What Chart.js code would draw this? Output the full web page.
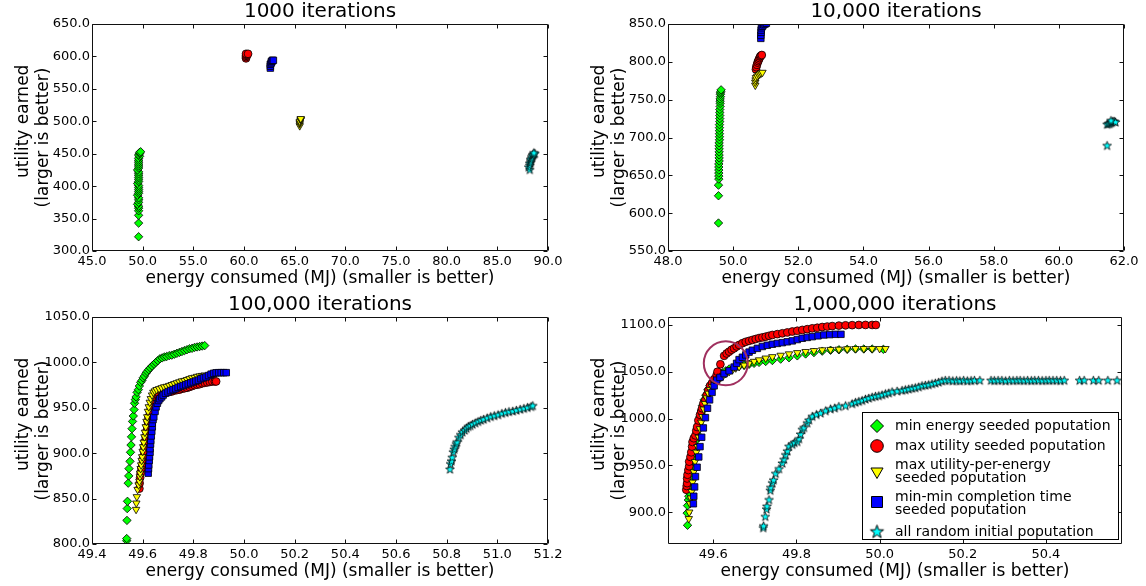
<!DOCTYPE html>
<html><head><meta charset="utf-8">
<script src="https://cdn.jsdelivr.net/npm/chart.js@4/dist/chart.umd.min.js"></script>
<style>
html,body{margin:0;padding:0;background:#fff;}
#wrap{position:relative;width:1146px;height:586px;overflow:hidden;background:#fff;}
canvas{position:absolute;}
</style></head><body>
<div id="wrap">
<canvas id="c1" width="573" height="293" style="left:0;top:0"></canvas>
<canvas id="c2" width="573" height="293" style="left:573px;top:0"></canvas>
<canvas id="c3" width="573" height="293" style="left:0;top:293px"></canvas>
<canvas id="c4" width="573" height="293" style="left:573px;top:293px"></canvas>
</div>
<script>
// ---------- titles / labels ----------
const chartTitles = ["1000 iterations", "10,000 iterations", "100,000 iterations", "1,000,000 iterations"];
const xTitle = "energy consumed (MJ) (smaller is better)";
const yTitleLines = ["utility earned", "(larger is better)"];
const seriesNames = [
  ["min energy seeded poputation"],
  ["max utility seeded poputation"],
  ["max utility-per-energy", "seeded poputation"],
  ["min-min completion time", "seeded poputation"],
  ["all random initial poputation"]
];

// ---------- tick labels ----------
const c1XTicks = [45, 50, 55, 60, 65, 70, 75, 80, 85, 90];
const c1YTicks = [300, 350, 400, 450, 500, 550, 600, 650];
const c2XTicks = [48, 50, 52, 54, 56, 58, 60, 62];
const c2YTicks = [550, 600, 650, 700, 750, 800, 850];
const c3XTicks = [49.4, 49.6, 49.8, 50.0, 50.2, 50.4, 50.6, 50.8, 51.0, 51.2];
const c3YTicks = [800, 850, 900, 950, 1000, 1050];
const c4XTicks = [49.6, 49.8, 50.0, 50.2, 50.4];
const c4YTicks = [900, 950, 1000, 1050, 1100];

// ---------- axis ranges ----------
const c1Range = [45, 90, 300, 650];
const c2Range = [48, 62, 550, 850];
const c3Range = [49.4, 51.2, 800, 1050];
const c4Range = [49.491, 50.583, 866, 1108.5];

// ---------- chart 1: 1000 iterations ----------
const c1Green = [[49.6,322],[49.6,343],[49.6,355],[49.6,362],[49.6,366],[49.6,369],[49.5,372],[49.6,375],[49.6,379],[49.6,382],[49.5,386],[49.6,389],[49.6,392],[49.6,395],[49.6,398],[49.6,401],[49.5,404],[49.6,407],[49.6,410],[49.6,413],[49.6,416],[49.6,419],[49.6,422],[49.5,425],[49.6,428],[49.6,431],[49.6,434],[49.6,437],[49.6,440],[49.6,443],[49.7,446],[49.6,448],[49.7,450],[49.7,452],[49.8,453]];
const c1Red = [[60.2,597],[60.2,599],[60.2,601],[60.3,602],[60.3,603],[60.2,604],[60.4,604]];
const c1Yellow = [[65.5,493],[65.5,496],[65.5,498],[65.5,500],[65.6,502],[65.6,503],[65.6,504]];
const c1Blue = [[62.6,582],[62.6,585],[62.6,588],[62.7,590],[62.7,592],[62.8,593],[62.8,594],[62.9,594]];
const c1Cyan = [[88.2,425],[88.1,429],[88.2,432],[88.2,435],[88.3,437],[88.3,439],[88.3,441],[88.4,443],[88.4,445],[88.5,447],[88.5,448],[88.6,449],[88.7,450],[88.6,451]];

// ---------- chart 2: 10,000 iterations ----------
const c2Green = [[49.55,587],[49.55,623],[49.55,637],[49.56,645],[49.56,649],[49.56,653],[49.56,657],[49.56,661],[49.56,665],[49.57,669],[49.57,673],[49.57,677],[49.57,681],[49.57,685],[49.57,689],[49.57,693],[49.58,697],[49.58,701],[49.58,705],[49.58,709],[49.58,713],[49.58,717],[49.59,721],[49.59,725],[49.59,729],[49.59,733],[49.59,737],[49.6,741],[49.6,745],[49.6,748],[49.6,751],[49.61,754],[49.61,757],[49.61,759],[49.62,761],[49.63,763]];
const c2Red = [[50.70,790],[50.71,793],[50.73,796],[50.75,799],[50.77,801],[50.79,803],[50.81,805],[50.83,807],[50.85,808],[50.88,809]];
const c2Yellow = [[50.68,769],[50.68,773],[50.69,776],[50.70,779],[50.74,781],[50.78,783],[50.82,784],[50.86,785],[50.90,786]];
const c2Blue = [[50.85,831],[50.85,835],[50.86,839],[50.86,842],[50.87,845],[50.90,847],[50.94,849],[50.98,850],[51.02,851]];
const c2Cyan = [[61.48,689],[61.48,717],[61.52,718],[61.56,718],[61.60,719],[61.63,720],[61.66,721],[61.70,721],[61.74,720],[61.60,722]];

// ---------- chart 3: 100,000 iterations ----------
const c3Green = [[49.537,803.7],[49.537,806],[49.538,826],[49.539,839],[49.54,847],[49.543,867],[49.545,875],[49.546,883],[49.55,891],[49.552,901],[49.554,909],[49.556,918],[49.558,927],[49.56,935],[49.563,941],[49.566,948],[49.568,955],[49.571,959],[49.574,962],[49.578,967],[49.583,970],[49.587,974],[49.592,978],[49.597,980],[49.602,983],[49.607,985],[49.613,988],[49.618,990],[49.624,992],[49.63,994],[49.637,996],[49.645,998],[49.652,1000],[49.66,1002],[49.668,1004],[49.677,1005],[49.686,1006],[49.695,1006.5],[49.705,1007.5],[49.715,1008],[49.725,1009],[49.735,1010],[49.745,1011],[49.755,1012],[49.765,1013],[49.775,1014],[49.785,1015],[49.795,1015.5],[49.805,1016.5],[49.815,1017],[49.825,1017.5],[49.835,1018],[49.845,1018.5]];
const c3Red = [[49.587,861],[49.588,867],[49.59,873],[49.592,878],[49.595,883],[49.599,887],[49.601,892],[49.603,896],[49.605,902],[49.606,907],[49.609,913],[49.612,918],[49.615,924],[49.618,929],[49.62,935],[49.623,940],[49.628,946],[49.633,951],[49.638,955],[49.643,959],[49.65,962],[49.657,964],[49.665,965],[49.675,966],[49.685,966.5],[49.695,967],[49.705,967.5],[49.715,968],[49.725,969],[49.735,969.5],[49.745,970],[49.755,971],[49.765,971.5],[49.775,972],[49.785,973],[49.795,974],[49.805,975],[49.815,975.5],[49.825,976],[49.835,977],[49.845,977.5],[49.855,978],[49.865,978.5],[49.875,979],[49.885,979],[49.89,979]];
const c3Yellow = [[49.574,838],[49.575,845],[49.577,852],[49.58,860],[49.584,865],[49.587,869],[49.589,874],[49.59,878],[49.592,883],[49.594,887],[49.596,892],[49.598,896],[49.6,902],[49.602,907],[49.604,912],[49.607,918],[49.609,923],[49.612,929],[49.615,935],[49.618,940],[49.621,946],[49.624,951],[49.628,956],[49.632,960],[49.637,964],[49.642,967],[49.648,968.5],[49.655,970],[49.665,971],[49.675,972],[49.685,973],[49.695,973.5],[49.705,974.5],[49.715,975.5],[49.725,976.5],[49.735,977.5],[49.745,978.5],[49.755,979.5],[49.765,980],[49.775,981],[49.785,982],[49.795,983],[49.805,983.5],[49.815,984.5],[49.825,985],[49.835,985.5],[49.845,986]];
const c3Blue = [[49.622,878],[49.623,883],[49.624,887],[49.626,892],[49.627,896],[49.629,901],[49.629,905],[49.631,910],[49.632,914],[49.634,919],[49.636,924],[49.638,929],[49.638,933],[49.641,937],[49.644,940],[49.649,946],[49.653,951],[49.658,955],[49.663,958],[49.668,960],[49.675,962],[49.681,964],[49.69,966],[49.7,967.5],[49.71,969],[49.72,970],[49.73,971],[49.74,972.5],[49.75,973.5],[49.76,974.5],[49.77,975.5],[49.78,976.5],[49.79,977.5],[49.8,978.5],[49.81,979.5],[49.82,980.5],[49.83,982],[49.84,983],[49.85,984],[49.86,985.5],[49.87,987],[49.88,988],[49.89,988.5],[49.9,988.7],[49.91,988.7],[49.92,988.7],[49.93,988.7]];
const c3Cyan = [[50.813,882],[50.815,888],[50.819,891],[50.822,895],[50.826,901],[50.83,904],[50.833,907],[50.838,910],[50.841,912],[50.848,917],[50.855,920],[50.862,923],[50.871,925],[50.878,927],[50.885,929],[50.893,930],[50.902,931.5],[50.913,933],[50.924,934.5],[50.935,936],[50.946,937],[50.96,938.5],[50.974,940],[50.988,941],[51.003,942],[51.018,943.5],[51.032,944.5],[51.046,945.5],[51.061,946],[51.075,947],[51.09,948],[51.105,949],[51.119,950],[51.133,951],[51.14,952]];

// ---------- chart 4: 1,000,000 iterations ----------
const c4Green = [[49.538,886],[49.537,899],[49.538,907],[49.54,913],[49.541,917],[49.542,921],[49.544,925],[49.545,929],[49.546,933],[49.547,938],[49.548,942],[49.549,947],[49.55,954],[49.552,958],[49.553,963],[49.554,967],[49.555,972],[49.557,976],[49.558,981],[49.56,984],[49.562,988],[49.564,991],[49.566,995],[49.568,1002],[49.571,1006],[49.572,1009],[49.574,1014],[49.578,1020],[49.582,1025],[49.587,1031],[49.592,1035],[49.598,1039],[49.606,1043],[49.614,1046],[49.622,1049],[49.63,1051],[49.638,1053],[49.65,1055],[49.662,1056],[49.674,1057],[49.686,1058],[49.698,1059],[49.71,1060],[49.726,1061],[49.742,1062],[49.762,1063.5],[49.782,1065],[49.802,1067],[49.822,1069],[49.842,1070.5],[49.862,1072],[49.882,1073],[49.902,1073.5],[49.922,1074],[49.942,1074.3],[49.962,1074.3],[49.982,1074.3],[50.009,1074]];
const c4Red = [[49.535,924],[49.536,928],[49.537,931],[49.537,936],[49.538,940],[49.54,945],[49.542,949],[49.542,954],[49.545,959],[49.547,964],[49.549,970],[49.55,975],[49.553,979],[49.557,982],[49.559,987],[49.561,991],[49.564,998],[49.568,1004],[49.571,1008],[49.573,1011],[49.576,1016],[49.581,1020],[49.584,1025],[49.588,1030],[49.592,1035],[49.597,1038],[49.602,1042],[49.608,1046.5],[49.61,1050],[49.617,1058],[49.626,1067],[49.632,1069.5],[49.638,1071.5],[49.644,1073.5],[49.65,1075],[49.656,1077],[49.662,1078.6],[49.67,1080.5],[49.678,1082],[49.686,1083],[49.694,1084],[49.702,1085],[49.71,1086],[49.718,1086.7],[49.726,1087.5],[49.734,1088.4],[49.742,1089.3],[49.754,1090.2],[49.766,1091.1],[49.778,1092],[49.79,1093],[49.802,1093.8],[49.814,1094.7],[49.826,1095.5],[49.838,1096.4],[49.85,1097],[49.862,1097.8],[49.874,1098.3],[49.886,1098.8],[49.902,1099.3],[49.918,1099.6],[49.934,1099.8],[49.95,1100],[49.966,1100],[49.982,1100],[49.991,1100]];
const c4Yellow = [[49.541,893],[49.542,900],[49.544,909],[49.546,915],[49.548,922],[49.55,932],[49.553,943],[49.556,954],[49.559,964],[49.562,970],[49.565,980],[49.568,989],[49.571,996],[49.574,1002],[49.577,1010],[49.58,1016],[49.584,1022],[49.588,1027],[49.592,1031],[49.597,1034],[49.603,1037],[49.608,1040],[49.613,1042],[49.618,1044],[49.624,1046],[49.63,1048],[49.638,1050],[49.646,1052],[49.654,1054],[49.662,1055.4],[49.674,1057],[49.686,1059],[49.698,1061],[49.71,1062.6],[49.726,1064.5],[49.742,1066],[49.762,1067.5],[49.782,1069],[49.802,1070.3],[49.822,1071.5],[49.842,1072.5],[49.862,1073.3],[49.882,1073.7],[49.902,1074],[49.922,1074.4],[49.942,1074.7],[49.962,1074.7],[49.982,1074.7],[50.0,1074.7],[50.014,1074.7]];
const c4Blue = [[49.552,909],[49.553,917],[49.555,927],[49.557,938],[49.561,948],[49.565,959],[49.568,970],[49.572,980],[49.576,990],[49.581,1001],[49.586,1011],[49.591,1020],[49.597,1028],[49.602,1035],[49.608,1041],[49.616,1044],[49.626,1048],[49.638,1051],[49.65,1055],[49.656,1059],[49.662,1063],[49.67,1065.5],[49.678,1068],[49.686,1071],[49.694,1073],[49.706,1075],[49.718,1077],[49.73,1078.3],[49.742,1079.4],[49.754,1080.3],[49.766,1081.1],[49.778,1082],[49.79,1083],[49.802,1084.4],[49.814,1085.8],[49.826,1086.7],[49.838,1087.5],[49.852,1088.4],[49.866,1089.3],[49.88,1089.7],[49.894,1090],[49.907,1090]];
const c4Cyan = [[49.72,883],[49.721,885],[49.725,895],[49.728,903],[49.729,906],[49.734,913],[49.737,923],[49.738,926],[49.742,931],[49.745,934],[49.75,941],[49.758,946],[49.766,952],[49.77,956],[49.774,961],[49.778,965],[49.782,970],[49.79,972],[49.795,974],[49.802,975],[49.806,978],[49.81,983],[49.814,988],[49.818,990],[49.826,995],[49.83,998],[49.838,1002],[49.848,1004],[49.858,1005.5],[49.87,1008],[49.882,1010],[49.892,1011],[49.902,1012.6],[49.918,1013.4],[49.934,1015.5],[49.942,1017],[49.95,1018],[49.958,1019],[49.966,1020.5],[49.974,1021.5],[49.982,1022.7],[49.99,1023.5],[49.998,1024.1],[50.006,1025],[50.014,1026.2],[50.022,1027],[50.03,1028.3],[50.042,1029],[50.054,1029.8],[50.062,1030.5],[50.07,1031.2],[50.078,1032],[50.086,1032.6],[50.094,1033.5],[50.102,1034.8],[50.11,1035.3],[50.118,1035.8],[50.126,1036.8],[50.134,1037.6],[50.142,1038.5],[50.15,1039.8],[50.158,1040.5],[50.167,1040.5],[50.176,1040],[50.185,1040.3],[50.193,1040],[50.202,1040.5],[50.211,1040],[50.22,1040.3],[50.228,1040.5],[50.241,1040.5],[50.268,1040.5],[50.276,1040.3],[50.285,1040.5],[50.294,1040.5],[50.303,1040],[50.312,1040.5],[50.321,1040.3],[50.33,1040.5],[50.338,1040.5],[50.347,1040.3],[50.356,1040.5],[50.365,1040.3],[50.373,1040.5],[50.382,1040.5],[50.391,1040.3],[50.4,1040.5],[50.408,1040.5],[50.417,1040.5],[50.426,1040.5],[50.435,1040.3],[50.444,1040.5],[50.481,1040.5],[50.492,1040.5],[50.514,1040.5],[50.527,1040.5],[50.549,1040.5],[50.571,1040.5]];
// highlighted region (circle annotation) in chart 4
const c4Highlight = [[49.630, 1059]];

// ---------- styles ----------
const FONT = "'DejaVu Sans', 'Bitstream Vera Sans', sans-serif";
const seriesColors = ['#00ff00', '#ff0000', '#ffff00', '#0000ff', '#00ffff'];

function makeStar(R, fill, lw) {
  const s = Math.ceil(2 * R + 3);
  const c = document.createElement('canvas');
  c.width = s; c.height = s;
  const g = c.getContext('2d');
  g.beginPath();
  for (let i = 0; i < 10; i++) {
    const r = i % 2 ? R * 0.4 : R;
    const a = -Math.PI / 2 + i * Math.PI / 5;
    const px = s / 2 + r * Math.cos(a), py = s / 2 + r * Math.sin(a);
    if (i) g.lineTo(px, py); else g.moveTo(px, py);
  }
  g.closePath();
  g.fillStyle = fill; g.fill();
  g.lineWidth = lw; g.strokeStyle = '#000'; g.stroke();
  return c;
}
const starPoint = makeStar(4.6, '#00ffff', 0.8);
const starLegend = makeStar(7, '#00ffff', 1);

const pointStyles = [
  {style: 'rectRot', r: 4.2, rot: 0},
  {style: 'circle', r: 3.9, rot: 0},
  {style: 'triangle', r: 4.3, rot: 180},
  {style: 'rect', r: 4.6, rot: 0},
  {style: starPoint, r: 4.6, rot: 0}
];

function series(points, k) {
  const s = pointStyles[k];
  return {
    label: seriesNames[k].join(' '),
    data: points.map(p => ({x: p[0], y: p[1]})),
    pointStyle: s.style,
    pointRadius: s.r,
    pointRotation: s.rot,
    pointBackgroundColor: seriesColors[k],
    pointBorderColor: '#000',
    pointBorderWidth: 0.8,
    showLine: false,
    order: 5 - k,
    clip: 0
  };
}

// frame with inward tick marks on all four sides
const frameTicks = {
  id: 'frameTicks',
  afterDatasetsDraw(chart) {
    const {ctx, chartArea: a} = chart;
    const xs = chart.scales.x, ys = chart.scales.y;
    ctx.save();
    ctx.strokeStyle = '#111';
    ctx.lineWidth = 1;
    const L = Math.round(a.left) + 0.5, R = Math.round(a.right) - 0.5;
    const T = Math.round(a.top) + 0.5, B = Math.round(a.bottom) - 0.5;
    ctx.beginPath();
    ctx.rect(L, T, R - L, B - T);
    ctx.stroke();
    ctx.beginPath();
    const tl = 4;
    xs.ticks.forEach(t => {
      const px = Math.round(xs.getPixelForValue(t.value)) + 0.5;
      ctx.moveTo(px, B); ctx.lineTo(px, B - tl);
      ctx.moveTo(px, T); ctx.lineTo(px, T + tl);
    });
    ys.ticks.forEach(t => {
      const py = Math.round(ys.getPixelForValue(t.value)) + 0.5;
      ctx.moveTo(L, py); ctx.lineTo(L + tl, py);
      ctx.moveTo(R, py); ctx.lineTo(R - tl, py);
    });
    ctx.stroke();
    ctx.restore();
  }
};

// legend for chart 4
const legendBox = {
  id: 'legendBox',
  afterDraw(chart) {
    const ctx = chart.ctx;
    const bx = 289, by = 119, bw = 256, bh = 127;
    ctx.save();
    ctx.fillStyle = '#fff';
    ctx.fillRect(bx, by, bw, bh);
    ctx.strokeStyle = '#000';
    ctx.lineWidth = 1;
    ctx.strokeRect(bx + 0.5, by + 0.5, bw, bh);
    const mx = 304, tx = 322;
    const rows = [
      {my: 133, ty: [133]},
      {my: 153, ty: [153]},
      {my: 178.5, ty: [172, 185]},
      {my: 209, ty: [204, 217]},
      {my: 239, ty: [239]}
    ];
    ctx.lineWidth = 1;
    ctx.strokeStyle = '#000';
    rows.forEach((row, k) => {
      const y = row.my;
      ctx.fillStyle = seriesColors[k];
      ctx.beginPath();
      if (k === 0) {
        const r = 6.5;
        ctx.moveTo(mx, y - r); ctx.lineTo(mx + r, y); ctx.lineTo(mx, y + r); ctx.lineTo(mx - r, y); ctx.closePath();
      } else if (k === 1) {
        ctx.arc(mx, y, 6.3, 0, Math.PI * 2);
      } else if (k === 2) {
        const r = 7;
        ctx.moveTo(mx, y + r);
        ctx.lineTo(mx + r * Math.cos(Math.PI / 6), y - r / 2);
        ctx.lineTo(mx - r * Math.cos(Math.PI / 6), y - r / 2);
        ctx.closePath();
      } else if (k === 3) {
        ctx.rect(mx - 5.5, y - 5.5, 11, 11);
      }
      if (k < 4) { ctx.fill(); ctx.stroke(); }
      else { ctx.drawImage(starLegend, mx - starLegend.width / 2, y - starLegend.height / 2); }
      ctx.fillStyle = '#000';
      ctx.font = '14px ' + FONT;
      ctx.textBaseline = 'middle';
      ctx.textAlign = 'left';
      seriesNames[k].forEach((line, i) => ctx.fillText(line, tx, row.ty[i]));
    });
    ctx.restore();
  }
};

function makeChart(id, o) {
  const datasets = o.sets.map((pts, k) => series(pts, k));
  if (o.highlight) {
    datasets.push({
      label: 'highlight',
      data: o.highlight.map(p => ({x: p[0], y: p[1]})),
      pointStyle: 'circle',
      pointRadius: 22,
      pointBackgroundColor: 'rgba(0,0,0,0)',
      pointBorderColor: '#a0305f',
      pointBorderWidth: 2,
      showLine: false,
      order: 0,
      clip: 0
    });
  }
  const tickFont = {family: FONT, size: 13};
  return new Chart(document.getElementById(id), {
    type: 'scatter',
    data: {datasets},
    plugins: o.legend ? [frameTicks, legendBox] : [frameTicks],
    options: {
      responsive: false,
      devicePixelRatio: 1,
      animation: false,
      events: [],
      layout: {padding: {left: 0, right: o.rightPad, top: 0, bottom: 0}},
      plugins: {
        legend: {display: false},
        tooltip: {enabled: false},
        title: {
          display: true, text: o.title, color: '#000', fullSize: false,
          font: {family: FONT, size: 20, weight: 'normal', lineHeight: 1.2},
          padding: {top: 0, bottom: 0}
        }
      },
      scales: {
        x: {
          type: 'linear', position: 'bottom',
          min: o.range[0], max: o.range[1],
          grid: {display: false, drawTicks: false},
          border: {display: false},
          afterBuildTicks: s => { s.ticks = o.xTicks.map(v => ({value: v})); },
          afterFit: s => { s.height = 42; },
          ticks: {color: '#000', font: tickFont, padding: 3, maxRotation: 0, autoSkip: false,
                  callback: v => Number(v).toFixed(1)},
          title: {display: true, text: xTitle, color: '#000',
                  font: {family: FONT, size: 17, lineHeight: 1.2}, padding: {top: 0, bottom: 4}}
        },
        y: {
          type: 'linear', position: 'left',
          min: o.range[2], max: o.range[3],
          grid: {display: false, drawTicks: false},
          border: {display: false},
          afterBuildTicks: s => { s.ticks = o.yTicks.map(v => ({value: v})); },
          afterFit: s => { s.width = o.leftW; },
          ticks: {color: '#000', font: tickFont, padding: 2, autoSkip: false,
                  callback: v => Number(v).toFixed(1)},
          title: {display: true, text: ['      ' + yTitleLines[0], yTitleLines[1]], color: '#000',
                  font: {family: FONT, size: 17, lineHeight: 1.15},
                  padding: {top: o.leftW - 92 + 14, bottom: 0}}
        }
      }
    }
  });
}

makeChart('c1', {title: chartTitles[0], range: c1Range, xTicks: c1XTicks, yTicks: c1YTicks,
  leftW: 92, rightPad: 25, sets: [c1Green, c1Red, c1Yellow, c1Blue, c1Cyan]});
makeChart('c2', {title: chartTitles[1], range: c2Range, xTicks: c2XTicks, yTicks: c2YTicks,
  leftW: 95, rightPad: 22, sets: [c2Green, c2Red, c2Yellow, c2Blue, c2Cyan]});
makeChart('c3', {title: chartTitles[2], range: c3Range, xTicks: c3XTicks, yTicks: c3YTicks,
  leftW: 92, rightPad: 25, sets: [c3Green, c3Red, c3Yellow, c3Blue, c3Cyan]});
makeChart('c4', {title: chartTitles[3], range: c4Range, xTicks: c4XTicks, yTicks: c4YTicks,
  leftW: 95, rightPad: 22, sets: [c4Green, c4Red, c4Yellow, c4Blue, c4Cyan], highlight: c4Highlight, legend: true});
</script>
</body></html>
